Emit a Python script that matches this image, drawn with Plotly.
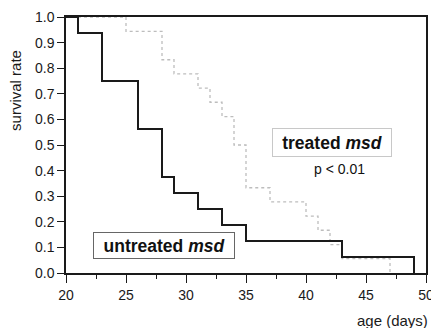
import plotly.graph_objects as go

# Untreated msd (Kaplan-Meier steps)
untreated_days = [20, 21, 23, 26, 28, 29, 31, 33, 35, 43, 49]
untreated_surv = [1.0, 0.9375, 0.75, 0.5625, 0.375, 0.3125, 0.25, 0.1875, 0.125, 0.0625, 0.0]

# Treated msd
treated_days = [20, 25, 28, 29, 31, 32, 33, 34, 35, 37, 40, 41, 42, 43, 47]
treated_surv = [1.0, 0.944, 0.833, 0.778, 0.722, 0.667, 0.611, 0.5, 0.333, 0.278, 0.222,
                0.167, 0.111, 0.056, 0.0]

x_ticks = [20, 25, 30, 35, 40, 45, 50]
y_ticks = [0.0, 0.1, 0.2, 0.3, 0.4, 0.5, 0.6, 0.7, 0.8, 0.9, 1.0]

font_family = "Liberation Sans, Arial, sans-serif"

fig = go.Figure()
fig.add_trace(go.Scatter(
    x=treated_days, y=treated_surv, mode="lines", line_shape="hv",
    line=dict(color="#bdbdbd", width=1.3, dash="dot"), showlegend=False,
    hoverinfo="skip"))
fig.add_trace(go.Scatter(
    x=untreated_days, y=untreated_surv, mode="lines", line_shape="hv",
    line=dict(color="#1a1a1a", width=2), showlegend=False, hoverinfo="skip"))

fig.update_layout(
    width=431, height=328,
    margin=dict(l=66, r=5, t=17, b=55),
    paper_bgcolor="white", plot_bgcolor="white",
    font=dict(family=font_family, size=14, color="#1a1a1a"),
    xaxis=dict(
        range=[20, 50], tickvals=x_ticks, showgrid=False, zeroline=False,
        showline=True, linecolor="#1a1a1a", linewidth=1.5, mirror=True,
        ticks="outside", ticklen=8, tickwidth=1.3, tickcolor="#1a1a1a",
        minor=dict(ticks="outside", ticklen=4, dtick=2.5, tickwidth=1.2, tickcolor="#1a1a1a"),
        tickfont=dict(size=14), ticklabeloverflow="allow", automargin=False,
    ),
    yaxis=dict(
        range=[0, 1], tickvals=y_ticks, tickformat=".1f", showgrid=False, zeroline=False,
        showline=True, linecolor="#1a1a1a", linewidth=1.5, mirror=True,
        ticks="outside", ticklen=7, tickwidth=1.3, tickcolor="#1a1a1a",
        tickfont=dict(size=14), automargin=False,
    ),
    annotations=[
        dict(text="<b>treated <i>msd</i></b>", x=42.17, y=0.508, xref="x", yref="y",
             showarrow=False, font=dict(size=17.5, color="#111"),
             width=112, height=21, borderpad=3,
             bordercolor="#c8c8c8", borderwidth=1, bgcolor="white"),
        dict(text="p < 0.01", x=42.8, y=0.405, xref="x", yref="y",
             showarrow=False, font=dict(size=14, color="#111")),
        dict(text="<b>untreated <i>msd</i></b>", x=28.2, y=0.109, xref="x", yref="y",
             showarrow=False, font=dict(size=17.5, color="#111"),
             width=134, height=19, borderpad=3,
             bordercolor="#666666", borderwidth=1, bgcolor="white"),
        dict(text="age (days)", x=1.01, y=-0.185, xref="paper", yref="paper",
             xanchor="right", yanchor="middle", showarrow=False, font=dict(size=15)),
        dict(text="survival rate", x=-0.139, y=0.715, xref="paper", yref="paper",
             textangle=-90, xanchor="center", yanchor="middle", showarrow=False,
             font=dict(size=15)),
    ],
)

fig.write_html("out.html", config={"displayModeBar": False},
               post_script="document.body.style.margin='0';")
